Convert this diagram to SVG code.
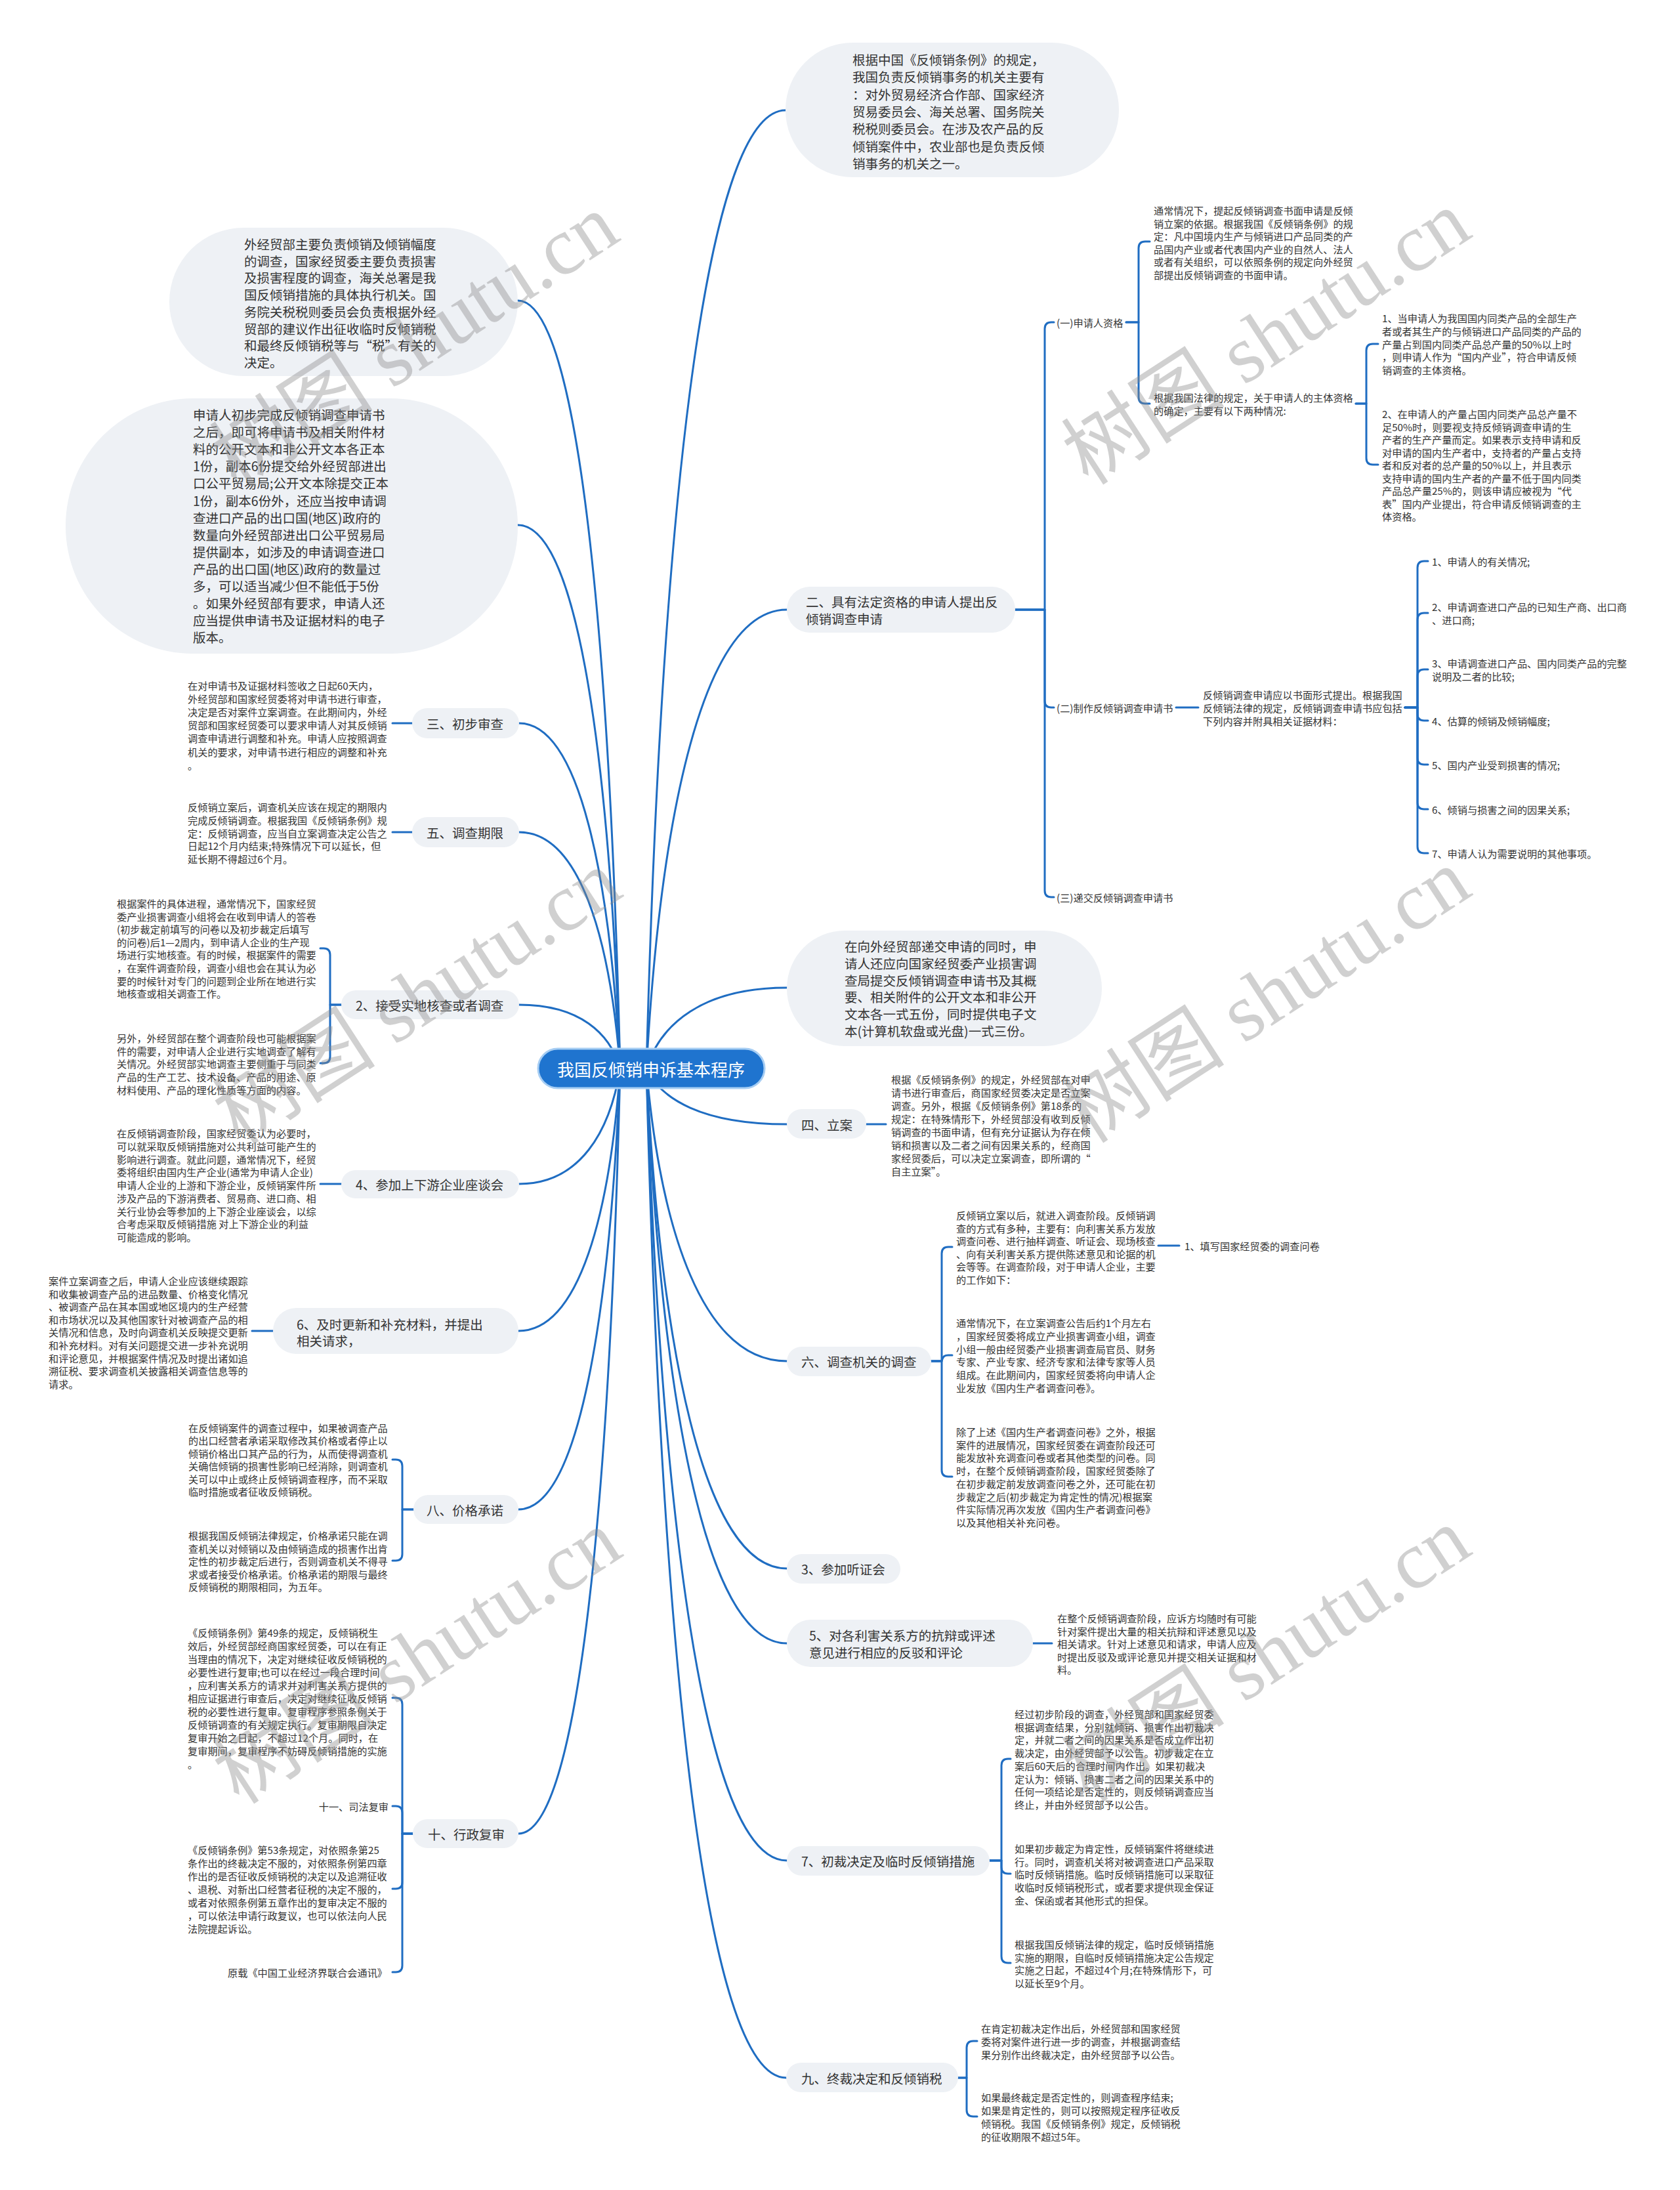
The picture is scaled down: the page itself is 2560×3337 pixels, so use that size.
<svg xmlns="http://www.w3.org/2000/svg" width="2560" height="3337" viewBox="0 0 2560 3337">
<style>
.t{font-family:"Noto Sans CJK SC","Noto Sans",sans-serif;fill:#333;dominant-baseline:central}
.d{font-size:15.2px}
.m{font-size:19.5px}
.e{text-anchor:end}
.p{fill:#eef1f5}
.c{fill:none;stroke:#1f6dc2;stroke-width:3;stroke-linecap:round;stroke-linejoin:round}
.wm{font-family:"Liberation Serif","Noto Sans CJK SC",serif;font-size:125px;fill:#8a8a8a;fill-opacity:.4;text-anchor:middle;dominant-baseline:central}
</style>
<rect width="2560" height="3337" fill="#fff"/>
<g id="connectors" class="c">
<path d="M945 1628 C929.4 984.5 882.6 458 789 458"/>
<path d="M945 1628 C929.4 1172.6 882.6 800 789 800"/>
<path d="M945 1628 C929.6 1338.7 883.4 1102 791 1102"/>
<path d="M945 1628 C929.6 1430 883.4 1268 791 1268"/>
<path d="M945 1628 C929.6 1574.7 883.4 1531 791 1531"/>
<path d="M945 1628 C929.6 1724.8 883.4 1804 791 1804"/>
<path d="M945 1628 C929.5 1848 883 2028 790 2028"/>
<path d="M945 1628 C929.5 1997.6 883 2300 790 2300"/>
<path d="M945 1628 C929.5 2269.3 883 2794 790 2794"/>
<path d="M985 1628 C1006.2 825 1069.8 168 1197 168"/>
<path d="M985 1628 C1006.4 1243.6 1070.6 929 1199 929"/>
<path d="M985 1628 C1006.4 1560.4 1070.6 1505 1199 1505"/>
<path d="M985 1628 C1006.4 1674.8 1070.6 1713 1199 1713"/>
<path d="M985 1628 C1006.4 1873.3 1070.6 2074 1199 2074"/>
<path d="M985 1628 C1006.4 2047.1 1070.6 2390 1199 2390"/>
<path d="M985 1628 C1006.4 2109.8 1070.6 2504 1199 2504"/>
<path d="M985 1628 C1006.4 2291.9 1070.6 2835 1199 2835"/>
<path d="M985 1628 C1006.3 2473.9 1070.2 3166 1198 3166"/>
<path d="M1547 929 H1592 V501 Q1592 491 1602 491 H1606"/>
<path d="M1547 929 H1592 V1068 Q1592 1078 1602 1078 H1606"/>
<path d="M1547 929 H1592 V1357 Q1592 1367 1602 1367 H1606"/>
<path d="M1716 491 H1735 V378 Q1735 368 1745 368 H1752"/>
<path d="M1716 491 H1735 V605 Q1735 615 1745 615 H1752"/>
<path d="M2066 615 H2082 V534 Q2082 524 2092 524 H2100"/>
<path d="M2066 615 H2082 V698 Q2082 708 2092 708 H2100"/>
<path d="M1792 1078 H1826"/>
<path d="M2141 1078 H2160 V865 Q2160 855 2170 855 H2176"/>
<path d="M2141 1078 H2160 V944 Q2160 934 2170 934 H2176"/>
<path d="M2141 1078 H2160 V1030 Q2160 1020 2170 1020 H2176"/>
<path d="M2141 1078 H2160 V1088 Q2160 1098 2170 1098 H2176"/>
<path d="M2141 1078 H2160 V1155 Q2160 1165 2170 1165 H2176"/>
<path d="M2141 1078 H2160 V1223 Q2160 1233 2170 1233 H2176"/>
<path d="M2141 1078 H2160 V1290 Q2160 1300 2170 1300 H2176"/>
<path d="M1320 1713 H1350"/>
<path d="M1419 2074 H1435 V1910 Q1435 1900 1445 1900 H1451"/>
<path d="M1419 2074 H1435 C1437 2066 1440 2065 1445 2065 H1451"/>
<path d="M1419 2074 H1435 V2240 Q1435 2250 1445 2250 H1451"/>
<path d="M1765 1898 H1797"/>
<path d="M1574 2504 H1603"/>
<path d="M1508 2835 H1526 V2690 Q1526 2680 1536 2680 H1540"/>
<path d="M1508 2835 H1526 V2845 Q1526 2855 1536 2855 H1540"/>
<path d="M1508 2835 H1526 V2981 Q1526 2991 1536 2991 H1540"/>
<path d="M1460 3166 H1473 V3120 Q1473 3110 1483 3110 H1489"/>
<path d="M1460 3166 H1473 V3215 Q1473 3225 1483 3225 H1489"/>
<path d="M628 1102 H598"/>
<path d="M628 1268 H598"/>
<path d="M520 1531 H503 V1455 Q503 1445 493 1445 H488"/>
<path d="M520 1531 H503 V1610 Q503 1620 493 1620 H488"/>
<path d="M520 1804 H488"/>
<path d="M416 2028 H384"/>
<path d="M630 2300 H613 V2234 Q613 2224 603 2224 H598"/>
<path d="M630 2300 H613 V2368 Q613 2378 603 2378 H598"/>
<path d="M629 2794 H613 V2597 Q613 2587 603 2587 H598"/>
<path d="M629 2794 H613 V2762 Q613 2752 603 2752 H598"/>
<path d="M629 2794 H613 V2868 Q613 2878 603 2878 H598"/>
<path d="M629 2794 H613 V2995 Q613 3005 603 3005 H598"/>
</g>

<g id="root">
<rect x="820" y="1598" width="345" height="60" rx="30" fill="#1f74cf" stroke="#a6cdf3" stroke-width="3"/>
<text x="992" y="1628" style="font-family:'Noto Sans CJK SC',sans-serif;font-size:26px;fill:#fff;text-anchor:middle;dominant-baseline:central">我国反倾销申诉基本程序</text>
</g>

<g id="n-authorities">
<rect class="p" x="1197" y="65" width="508" height="205" rx="102"/>
<text class="t m"><tspan x="1299" y="90">根据中国《反倾销条例》的规定，</tspan><tspan x="1299" y="116.3">我国负责反倾销事务的机关主要有</tspan><tspan x="1299" y="142.6">：对外贸易经济合作部、国家经济</tspan><tspan x="1299" y="168.9">贸易委员会、海关总署、国务院关</tspan><tspan x="1299" y="195.2">税税则委员会。在涉及农产品的反</tspan><tspan x="1299" y="221.5">倾销案件中，农业部也是负责反倾</tspan><tspan x="1299" y="247.8">销事务的机关之一。</tspan></text>
</g>

<g id="n-division">
<rect class="p" x="258" y="347" width="531" height="226" rx="113"/>
<text class="t m"><tspan x="372" y="371">外经贸部主要负责倾销及倾销幅度</tspan><tspan x="372" y="396.7">的调查，国家经贸委主要负责损害</tspan><tspan x="372" y="422.4">及损害程度的调查，海关总署是我</tspan><tspan x="372" y="448.1">国反倾销措施的具体执行机关。国</tspan><tspan x="372" y="473.8">务院关税税则委员会负责根据外经</tspan><tspan x="372" y="499.5">贸部的建议作出征收临时反倾销税</tspan><tspan x="372" y="525.2">和最终反倾销税等与“税”有关的</tspan><tspan x="372" y="550.9">决定。</tspan></text>
</g>

<g id="n-submit-copies">
<rect class="p" x="100" y="607" width="689" height="389" rx="194"/>
<text class="t m"><tspan x="294" y="631">申请人初步完成反倾销调查申请书</tspan><tspan x="294" y="657.1">之后，即可将申请书及相关附件材</tspan><tspan x="294" y="683.2">料的公开文本和非公开文本各正本</tspan><tspan x="294" y="709.3">1份，副本6份提交给外经贸部进出</tspan><tspan x="294" y="735.4">口公平贸易局;公开文本除提交正本</tspan><tspan x="294" y="761.5">1份，副本6份外，还应当按申请调</tspan><tspan x="294" y="787.6">查进口产品的出口国(地区)政府的</tspan><tspan x="294" y="813.7">数量向外经贸部进出口公平贸易局</tspan><tspan x="294" y="839.8">提供副本，如涉及的申请调查进口</tspan><tspan x="294" y="865.9">产品的出口国(地区)政府的数量过</tspan><tspan x="294" y="892">多，可以适当减少但不能低于5份</tspan><tspan x="294" y="918.1">。如果外经贸部有要求，申请人还</tspan><tspan x="294" y="944.2">应当提供申请书及证据材料的电子</tspan><tspan x="294" y="970.3">版本。</tspan></text>
</g>

<g id="n-2">
<rect class="p" x="1199" y="894" width="348" height="70" rx="35"/>
<text class="t m"><tspan x="1228" y="916">二、具有法定资格的申请人提出反</tspan><tspan x="1228" y="942">倾销调查申请</tspan></text>
</g>
<g id="n-2-1">
<text class="t d" x="1610" y="491">(一)申请人资格</text>
<text class="t d"><tspan x="1758" y="320">通常情况下，提起反倾销调查书面申请是反倾</tspan><tspan x="1758" y="339.5">销立案的依据。根据我国《反倾销条例》的规</tspan><tspan x="1758" y="359">定：凡中国境内生产与倾销进口产品同类的产</tspan><tspan x="1758" y="378.5">品国内产业或者代表国内产业的自然人、法人</tspan><tspan x="1758" y="398">或者有关组织，可以依照条例的规定向外经贸</tspan><tspan x="1758" y="417.5">部提出反倾销调查的书面申请。</tspan></text>
<text class="t d"><tspan x="1758" y="605">根据我国法律的规定，关于申请人的主体资格</tspan><tspan x="1758" y="625">的确定，主要有以下两种情况:</tspan></text>
<text class="t d"><tspan x="2106" y="484">1、当申请人为我国国内同类产品的全部生产</tspan><tspan x="2106" y="503.8">者或者其生产的与倾销进口产品同类的产品的</tspan><tspan x="2106" y="523.6">产量占到国内同类产品总产量的50%以上时</tspan><tspan x="2106" y="543.4">，则申请人作为“国内产业”，符合申请反倾</tspan><tspan x="2106" y="563.2">销调查的主体资格。</tspan></text>
<text class="t d"><tspan x="2106" y="630">2、在申请人的产量占国内同类产品总产量不</tspan><tspan x="2106" y="649.5">足50%时，则要视支持反倾销调查申请的生</tspan><tspan x="2106" y="669">产者的生产产量而定。如果表示支持申请和反</tspan><tspan x="2106" y="688.5">对申请的国内生产者中，支持者的产量占支持</tspan><tspan x="2106" y="708">者和反对者的总产量的50%以上，并且表示</tspan><tspan x="2106" y="727.5">支持申请的国内生产者的产量不低于国内同类</tspan><tspan x="2106" y="747">产品总产量25%的，则该申请应被视为“代</tspan><tspan x="2106" y="766.5">表”国内产业提出，符合申请反倾销调查的主</tspan><tspan x="2106" y="786">体资格。</tspan></text>
</g>
<g id="n-2-2">
<text class="t d" x="1610" y="1078">(二)制作反倾销调查申请书</text>
<text class="t d"><tspan x="1833" y="1058">反倾销调查申请应以书面形式提出。根据我国</tspan><tspan x="1833" y="1078">反倾销法律的规定，反倾销调查申请书应包括</tspan><tspan x="1833" y="1098">下列内容并附具相关证据材料：</tspan></text>
<text class="t d" x="2182" y="855">1、申请人的有关情况;</text>
<text class="t d"><tspan x="2182" y="924">2、申请调查进口产品的已知生产商、出口商</tspan><tspan x="2182" y="944">、进口商;</tspan></text>
<text class="t d"><tspan x="2182" y="1010">3、申请调查进口产品、国内同类产品的完整</tspan><tspan x="2182" y="1030">说明及二者的比较;</tspan></text>
<text class="t d" x="2182" y="1098">4、估算的倾销及倾销幅度;</text>
<text class="t d" x="2182" y="1165">5、国内产业受到损害的情况;</text>
<text class="t d" x="2182" y="1233">6、倾销与损害之间的因果关系;</text>
<text class="t d" x="2182" y="1300">7、申请人认为需要说明的其他事项。</text>
</g>
<g id="n-2-3">
<text class="t d" x="1610" y="1367">(三)递交反倾销调查申请书</text>
</g>

<g id="n-industry-bureau">
<rect class="p" x="1199" y="1418" width="480" height="176" rx="88"/>
<text class="t m"><tspan x="1287" y="1441">在向外经贸部递交申请的同时，申</tspan><tspan x="1287" y="1466.8">请人还应向国家经贸委产业损害调</tspan><tspan x="1287" y="1492.6">查局提交反倾销调查申请书及其概</tspan><tspan x="1287" y="1518.4">要、相关附件的公开文本和非公开</tspan><tspan x="1287" y="1544.2">文本各一式五份，同时提供电子文</tspan><tspan x="1287" y="1570">本(计算机软盘或光盘)一式三份。</tspan></text>
</g>

<g id="n-4">
<rect class="p" x="1199" y="1690" width="121" height="45" rx="22.5"/>
<text class="t m" x="1221" y="1713">四、立案</text>
<text class="t d"><tspan x="1358" y="1644">根据《反倾销条例》的规定，外经贸部在对申</tspan><tspan x="1358" y="1664">请书进行审查后，商国家经贸委决定是否立案</tspan><tspan x="1358" y="1684">调查。另外，根据《反倾销条例》第18条的</tspan><tspan x="1358" y="1704">规定：在特殊情形下，外经贸部没有收到反倾</tspan><tspan x="1358" y="1724">销调查的书面申请，但有充分证据认为存在倾</tspan><tspan x="1358" y="1744">销和损害以及二者之间有因果关系的，经商国</tspan><tspan x="1358" y="1764">家经贸委后，可以决定立案调查，即所谓的“</tspan><tspan x="1358" y="1784">自主立案”。</tspan></text>
</g>

<g id="n-6">
<rect class="p" x="1199" y="2052" width="220" height="45" rx="22.5"/>
<text class="t m" x="1221" y="2074">六、调查机关的调查</text>
<text class="t d"><tspan x="1457" y="1851">反倾销立案以后，就进入调查阶段。反倾销调</tspan><tspan x="1457" y="1870.5">查的方式有多种，主要有：向利害关系方发放</tspan><tspan x="1457" y="1890">调查问卷、进行抽样调查、听证会、现场核查</tspan><tspan x="1457" y="1909.5">、向有关利害关系方提供陈述意见和论据的机</tspan><tspan x="1457" y="1929">会等等。在调查阶段，对于申请人企业，主要</tspan><tspan x="1457" y="1948.5">的工作如下：</tspan></text>
<text class="t d" x="1805" y="1898">1、填写国家经贸委的调查问卷</text>
<text class="t d"><tspan x="1457" y="2015">通常情况下，在立案调查公告后约1个月左右</tspan><tspan x="1457" y="2034.8">，国家经贸委将成立产业损害调查小组，调查</tspan><tspan x="1457" y="2054.6">小组一般由经贸委产业损害调查局官员、财务</tspan><tspan x="1457" y="2074.4">专家、产业专家、经济专家和法律专家等人员</tspan><tspan x="1457" y="2094.2">组成。在此期间内，国家经贸委将向申请人企</tspan><tspan x="1457" y="2114">业发放《国内生产者调查问卷》。</tspan></text>
<text class="t d"><tspan x="1457" y="2181">除了上述《国内生产者调查问卷》之外，根据</tspan><tspan x="1457" y="2200.7">案件的进展情况，国家经贸委在调查阶段还可</tspan><tspan x="1457" y="2220.4">能发放补充调查问卷或者其他类型的问卷。同</tspan><tspan x="1457" y="2240.1">时，在整个反倾销调查阶段，国家经贸委除了</tspan><tspan x="1457" y="2259.8">在初步裁定前发放调查问卷之外，还可能在初</tspan><tspan x="1457" y="2279.5">步裁定之后(初步裁定为肯定性的情况)根据案</tspan><tspan x="1457" y="2299.2">件实际情况再次发放《国内生产者调查问卷》</tspan><tspan x="1457" y="2318.9">以及其他相关补充问卷。</tspan></text>
</g>

<g id="n-hearing">
<rect class="p" x="1199" y="2368" width="173" height="45" rx="22.5"/>
<text class="t m" x="1221" y="2390">3、参加听证会</text>
</g>

<g id="n-rebuttal">
<rect class="p" x="1199" y="2468" width="375" height="72" rx="36"/>
<text class="t m"><tspan x="1233" y="2491">5、对各利害关系方的抗辩或评述</tspan><tspan x="1233" y="2517">意见进行相应的反驳和评论</tspan></text>
<text class="t d"><tspan x="1611" y="2465">在整个反倾销调查阶段，应诉方均随时有可能</tspan><tspan x="1611" y="2484.5">针对案件提出大量的相关抗辩和评述意见以及</tspan><tspan x="1611" y="2504">相关请求。针对上述意见和请求，申请人应及</tspan><tspan x="1611" y="2523.5">时提出反驳及或评论意见并提交相关证据和材</tspan><tspan x="1611" y="2543">料。</tspan></text>
</g>

<g id="n-prelim">
<rect class="p" x="1199" y="2813" width="309" height="45" rx="22.5"/>
<text class="t m" x="1221" y="2835">7、初裁决定及临时反倾销措施</text>
<text class="t d"><tspan x="1546" y="2611">经过初步阶段的调查，外经贸部和国家经贸委</tspan><tspan x="1546" y="2630.7">根据调查结果，分别就倾销、损害作出初裁决</tspan><tspan x="1546" y="2650.4">定，并就二者之间的因果关系是否成立作出初</tspan><tspan x="1546" y="2670.1">裁决定，由外经贸部予以公告。初步裁定在立</tspan><tspan x="1546" y="2689.8">案后60天后的合理时间内作出。如果初裁决</tspan><tspan x="1546" y="2709.5">定认为：倾销、损害二者之间的因果关系中的</tspan><tspan x="1546" y="2729.2">任何一项结论是否定性的，则反倾销调查应当</tspan><tspan x="1546" y="2748.9">终止，并由外经贸部予以公告。</tspan></text>
<text class="t d"><tspan x="1546" y="2816">如果初步裁定为肯定性，反倾销案件将继续进</tspan><tspan x="1546" y="2835.7">行。同时，调查机关将对被调查进口产品采取</tspan><tspan x="1546" y="2855.4">临时反倾销措施。临时反倾销措施可以采取征</tspan><tspan x="1546" y="2875.1">收临时反倾销税形式，或者要求提供现金保证</tspan><tspan x="1546" y="2894.8">金、保函或者其他形式的担保。</tspan></text>
<text class="t d"><tspan x="1546" y="2962">根据我国反倾销法律的规定，临时反倾销措施</tspan><tspan x="1546" y="2981.7">实施的期限，自临时反倾销措施决定公告规定</tspan><tspan x="1546" y="3001.4">实施之日起，不超过4个月;在特殊情形下，可</tspan><tspan x="1546" y="3021.1">以延长至9个月。</tspan></text>
</g>

<g id="n-9">
<rect class="p" x="1198" y="3143" width="262" height="45" rx="22.5"/>
<text class="t m" x="1221" y="3166">九、终裁决定和反倾销税</text>
<text class="t d"><tspan x="1495" y="3090">在肯定初裁决定作出后，外经贸部和国家经贸</tspan><tspan x="1495" y="3110">委将对案件进行进一步的调查，并根据调查结</tspan><tspan x="1495" y="3130">果分别作出终裁决定，由外经贸部予以公告。</tspan></text>
<text class="t d"><tspan x="1495" y="3195">如果最终裁定是否定性的，则调查程序结束;</tspan><tspan x="1495" y="3215">如果是肯定性的，则可以按照规定程序征收反</tspan><tspan x="1495" y="3235">倾销税。我国《反倾销条例》规定，反倾销税</tspan><tspan x="1495" y="3255">的征收期限不超过5年。</tspan></text>
</g>

<g id="n-3">
<rect class="p" x="628" y="1079" width="163" height="46" rx="23"/>
<text class="t m" x="650" y="1102">三、初步审查</text>
<text class="t d"><tspan x="286" y="1044">在对申请书及证据材料签收之日起60天内，</tspan><tspan x="286" y="1064.1">外经贸部和国家经贸委将对申请书进行审查，</tspan><tspan x="286" y="1084.2">决定是否对案件立案调查。在此期间内，外经</tspan><tspan x="286" y="1104.3">贸部和国家经贸委可以要求申请人对其反倾销</tspan><tspan x="286" y="1124.4">调查申请进行调整和补充。申请人应按照调查</tspan><tspan x="286" y="1144.5">机关的要求，对申请书进行相应的调整和补充</tspan><tspan x="286" y="1164.6">。</tspan></text>
</g>

<g id="n-5">
<rect class="p" x="628" y="1245" width="163" height="46" rx="23"/>
<text class="t m" x="650" y="1268">五、调查期限</text>
<text class="t d"><tspan x="286" y="1229">反倾销立案后，调查机关应该在规定的期限内</tspan><tspan x="286" y="1248.8">完成反倾销调查。根据我国《反倾销条例》规</tspan><tspan x="286" y="1268.6">定：反倾销调查，应当自立案调查决定公告之</tspan><tspan x="286" y="1288.4">日起12个月内结束;特殊情况下可以延长，但</tspan><tspan x="286" y="1308.2">延长期不得超过6个月。</tspan></text>
</g>

<g id="n-onsite">
<rect class="p" x="520" y="1509" width="271" height="44" rx="22"/>
<text class="t m" x="542" y="1531">2、接受实地核查或者调查</text>
<text class="t d"><tspan x="178" y="1376">根据案件的具体进程，通常情况下，国家经贸</tspan><tspan x="178" y="1395.6">委产业损害调查小组将会在收到申请人的答卷</tspan><tspan x="178" y="1415.2">(初步裁定前填写的问卷以及初步裁定后填写</tspan><tspan x="178" y="1434.8">的问卷)后1—2周内，到申请人企业的生产现</tspan><tspan x="178" y="1454.4">场进行实地核查。有的时候，根据案件的需要</tspan><tspan x="178" y="1474">，在案件调查阶段，调查小组也会在其认为必</tspan><tspan x="178" y="1493.6">要的时候针对专门的问题到企业所在地进行实</tspan><tspan x="178" y="1513.2">地核查或相关调查工作。</tspan></text>
<text class="t d"><tspan x="178" y="1581">另外，外经贸部在整个调查阶段也可能根据案</tspan><tspan x="178" y="1600.7">件的需要，对申请人企业进行实地调查了解有</tspan><tspan x="178" y="1620.4">关情况。外经贸部实地调查主要侧重于与同类</tspan><tspan x="178" y="1640.1">产品的生产工艺、技术设备、产品的用途、原</tspan><tspan x="178" y="1659.8">材料使用、产品的理化性质等方面的内容。</tspan></text>
</g>

<g id="n-forum">
<rect class="p" x="520" y="1783" width="271" height="43" rx="21.5"/>
<text class="t m" x="542" y="1804">4、参加上下游企业座谈会</text>
<text class="t d"><tspan x="178" y="1726">在反倾销调查阶段，国家经贸委认为必要时，</tspan><tspan x="178" y="1745.75">可以就采取反倾销措施对公共利益可能产生的</tspan><tspan x="178" y="1765.5">影响进行调查。就此问题，通常情况下，经贸</tspan><tspan x="178" y="1785.25">委将组织由国内生产企业(通常为申请人企业)</tspan><tspan x="178" y="1805">申请人企业的上游和下游企业，反倾销案件所</tspan><tspan x="178" y="1824.75">涉及产品的下游消费者、贸易商、进口商、相</tspan><tspan x="178" y="1844.5">关行业协会等参加的上下游企业座谈会，以综</tspan><tspan x="178" y="1864.25">合考虑采取反倾销措施 对上下游企业的利益</tspan><tspan x="178" y="1884">可能造成的影响。</tspan></text>
</g>

<g id="n-update">
<rect class="p" x="416" y="1993" width="374" height="70" rx="35"/>
<text class="t m"><tspan x="452" y="2017">6、及时更新和补充材料，并提出</tspan><tspan x="452" y="2042">相关请求，</tspan></text>
<text class="t d"><tspan x="74" y="1951">案件立案调查之后，申请人企业应该继续跟踪</tspan><tspan x="74" y="1970.6">和收集被调查产品的进品数量、价格变化情况</tspan><tspan x="74" y="1990.2">、被调查产品在其本国或地区境内的生产经营</tspan><tspan x="74" y="2009.8">和市场状况以及其他国家针对被调查产品的相</tspan><tspan x="74" y="2029.4">关情况和信息，及时向调查机关反映提交更新</tspan><tspan x="74" y="2049">和补充材料。对有关问题提交进一步补充说明</tspan><tspan x="74" y="2068.6">和评论意见，并根据案件情况及时提出诸如追</tspan><tspan x="74" y="2088.2">溯征税、要求调查机关披露相关调查信息等的</tspan><tspan x="74" y="2107.8">请求。</tspan></text>
</g>

<g id="n-8">
<rect class="p" x="630" y="2278" width="160" height="44" rx="22"/>
<text class="t m" x="650" y="2300">八、价格承诺</text>
<text class="t d"><tspan x="287" y="2175">在反倾销案件的调查过程中，如果被调查产品</tspan><tspan x="287" y="2194.4">的出口经营者承诺采取修改其价格或者停止以</tspan><tspan x="287" y="2213.8">倾销价格出口其产品的行为，从而使得调查机</tspan><tspan x="287" y="2233.2">关确信倾销的损害性影响已经消除，则调查机</tspan><tspan x="287" y="2252.6">关可以中止或终止反倾销调查程序，而不采取</tspan><tspan x="287" y="2272">临时措施或者征收反倾销税。</tspan></text>
<text class="t d"><tspan x="287" y="2339">根据我国反倾销法律规定，价格承诺只能在调</tspan><tspan x="287" y="2358.5">查机关以对倾销以及由倾销造成的损害作出肯</tspan><tspan x="287" y="2378">定性的初步裁定后进行，否则调查机关不得寻</tspan><tspan x="287" y="2397.5">求或者接受价格承诺。价格承诺的期限与最终</tspan><tspan x="287" y="2417">反倾销税的期限相同，为五年。</tspan></text>
</g>

<g id="n-10">
<rect class="p" x="629" y="2772" width="161" height="44" rx="22"/>
<text class="t m" x="652" y="2794">十、行政复审</text>
<text class="t d"><tspan x="286" y="2487">《反倾销条例》第49条的规定，反倾销税生</tspan><tspan x="286" y="2507">效后，外经贸部经商国家经贸委，可以在有正</tspan><tspan x="286" y="2527">当理由的情况下，决定对继续征收反倾销税的</tspan><tspan x="286" y="2547">必要性进行复审;也可以在经过一段合理时间</tspan><tspan x="286" y="2567">，应利害关系方的请求并对利害关系方提供的</tspan><tspan x="286" y="2587">相应证据进行审查后，决定对继续征收反倾销</tspan><tspan x="286" y="2607">税的必要性进行复审。复审程序参照条例关于</tspan><tspan x="286" y="2627">反倾销调查的有关规定执行。复审期限自决定</tspan><tspan x="286" y="2647">复审开始之日起，不超过12个月。同时，在</tspan><tspan x="286" y="2667">复审期间，复审程序不妨碍反倾销措施的实施</tspan><tspan x="286" y="2687">。</tspan></text>
<text class="t d e" x="592" y="2752">十一、司法复审</text>
<text class="t d"><tspan x="286" y="2818">《反倾销条例》第53条规定，对依照条第25</tspan><tspan x="286" y="2838">条作出的终裁决定不服的，对依照条例第四章</tspan><tspan x="286" y="2858">作出的是否征收反倾销税的决定以及追溯征收</tspan><tspan x="286" y="2878">、退税、对新出口经营者征税的决定不服的，</tspan><tspan x="286" y="2898">或者对依照条例第五章作出的复审决定不服的</tspan><tspan x="286" y="2918">，可以依法申请行政复议，也可以依法向人民</tspan><tspan x="286" y="2938">法院提起诉讼。</tspan></text>
<text class="t d e" x="590" y="3005">原载《中国工业经济界联合会通讯》</text>
</g>

<g id="watermarks">
<text class="wm" transform="translate(632 520) rotate(-33)">树图 shutu.cn</text>
<text class="wm" transform="translate(1930 515) rotate(-33)">树图 shutu.cn</text>
<text class="wm" transform="translate(636 1520) rotate(-33)">树图 shutu.cn</text>
<text class="wm" transform="translate(1930 1518) rotate(-33)">树图 shutu.cn</text>
<text class="wm" transform="translate(636 2525) rotate(-33)">树图 shutu.cn</text>
<text class="wm" transform="translate(1930 2522) rotate(-33)">树图 shutu.cn</text>
</g>
</svg>
